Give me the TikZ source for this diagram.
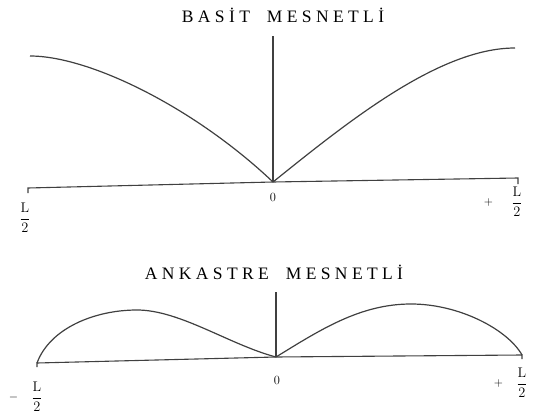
\documentclass[tikz,border=0pt]{standalone}
\usepackage{fontspec}
\usepackage{amsmath}
\usetikzlibrary{positioning}
\newfontfamily\titlefont[LetterSpace=25]{Liberation Serif}

\begin{document}
\begin{tikzpicture}[x=1pt, y=-1pt,
			axis/.style={line width=1.1pt, draw=black!75},
			curve/.style={line width=1.2pt, draw=black!75},
			title/.style={font=\titlefont\fontsize{17.5}{20}\selectfont, anchor=base},
			lbl/.style={font=\fontsize{12.5}{15}\selectfont, inner sep=0pt},
			half/.style={font=\fontsize{14}{16}\selectfont, inner sep=0pt}]
			\useasboundingbox (0,0) rectangle (536,420);
			
			% basit mesnetli
			\node[title] (titleA) at (283,23) {BASİT\hspace{17pt}MESNETLİ};
			\coordinate (topA) at (273,36);
			\coordinate (oA) at (273,182);
			\coordinate (leftA) at (28,188);
			\coordinate (rightA) at (518,178);
			\coordinate (startA) at (30,56);
			\coordinate (endA) at (515,48);
			\draw[axis] (oA) -- (topA);
			\draw[axis] (leftA) ++(0,5) -- (leftA) -- (oA) -- (rightA) -- ++(0,6);
			\draw[curve] (startA) .. controls (90,56) and (195,108) .. (oA);
			\draw[curve] (oA) .. controls (350,120) and (440,48) .. (endA);
			\node[lbl] (zeroA) at (273,197) {0};
			\node[half] (halfAL) at (25,218) {$\dfrac{\mathrm{L}}{2}$};
			\node[half] (halfAR) at (517,202) {$\dfrac{\mathrm{L}}{2}$};
			\node[lbl] (plusA) [left=18pt of halfAR] {$+$};
			
			% ankastre mesnetli
			\node[title] (titleB) at (274,279) {ANKASTRE\hspace{17pt}MESNETLİ};
			\coordinate (topB) at (276,292);
			\coordinate (oB) at (276,357);
			\coordinate (leftB) at (37,363);
			\coordinate (rightB) at (522,355);
			\draw[axis] (oB) -- (topB);
			\draw[axis] (leftB) ++(0,4) -- (leftB) -- (oB) -- (rightB) -- ++(0,4);
			\draw[curve] (leftB) .. controls (50,328) and (95,310) .. (137,310)
				.. controls (180,310) and (230,345) .. (oB);
			\draw[curve] (oB) .. controls (320,330) and (360,304) .. (411,304)
				.. controls (460,304) and (508,330) .. (rightB);
			\node[lbl] (zeroB) at (277,380) {0};
			\node[half] (halfBL) at (37,397) {$\dfrac{\mathrm{L}}{2}$};
			\node[lbl] (minusB) [left=13pt of halfBL] {$-$};
			\node[half] (halfBR) at (522,383) {$\dfrac{\mathrm{L}}{2}$};
			\node[lbl] (plusB) [left=13pt of halfBR] {$+$};
	\end{tikzpicture}
\end{document}
